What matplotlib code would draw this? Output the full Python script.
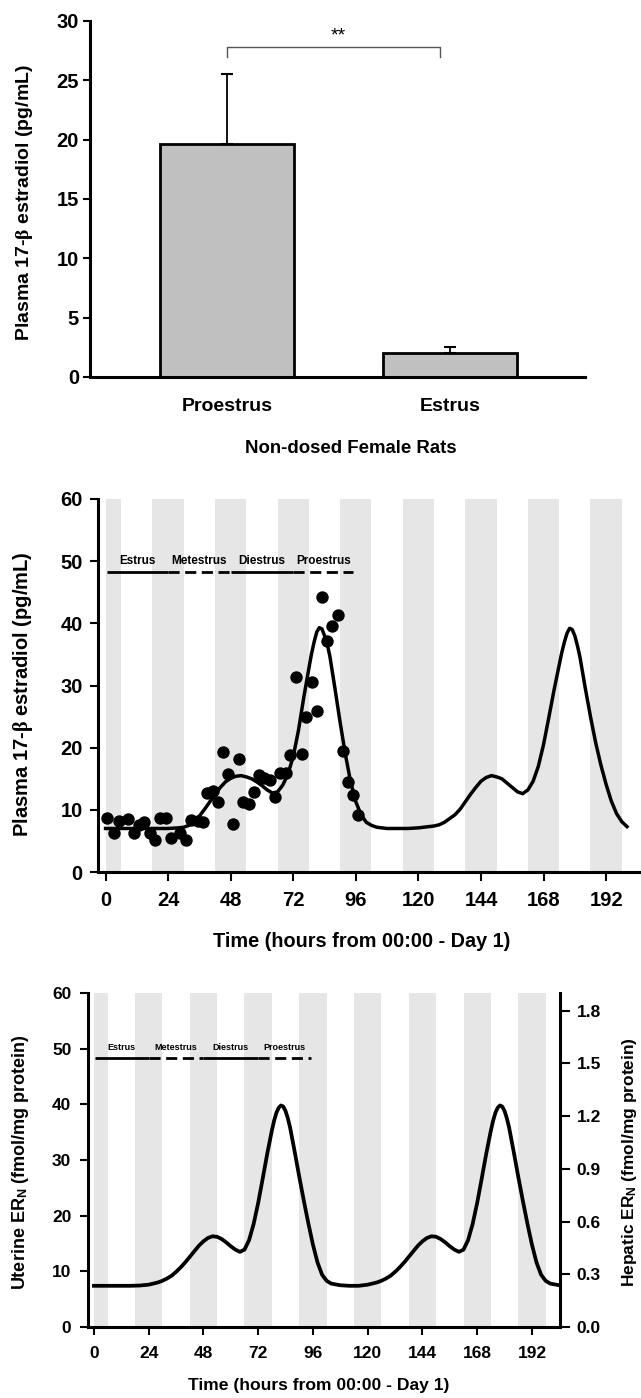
import numpy as np
import matplotlib.pyplot as plt

plt.rcParams['font.family'] = ['Liberation Sans', 'DejaVu Sans']
plt.rcParams['font.weight'] = 'bold'
plt.rcParams['axes.labelweight'] = 'bold'
plt.rcParams['mathtext.fontset'] = 'custom'
plt.rcParams['mathtext.rm'] = 'Liberation Serif'
plt.rcParams['mathtext.default'] = 'rm'

# ---- data: top bar chart ----
groups = ['Proestrus', 'Estrus']
bar_means = [19.6, 2.0]
bar_errs = [5.9, 0.5]

# ---- data: dark periods and cycle stages ----
dark_start = [0, 18, 42, 66, 90, 114, 138, 162, 186]
dark_end = [6, 30, 54, 78, 102, 126, 150, 174, 198]
stage_names = ['Estrus', 'Metestrus', 'Diestrus', 'Proestrus']
stage_start = [0.5, 24, 48, 72]
stage_end = [24, 48, 72, 95]
stage_dashed = [False, True, False, True]

# ---- data: plasma estradiol, observed ----
obs_hours = [0.6, 3.1, 5.0, 8.6, 10.8, 12.9, 14.9, 16.9, 19.1, 20.7, 23.0, 25.1,
             28.5, 30.9, 32.6, 35.6, 37.5, 38.9, 41.1, 43.1, 45.0, 47.0, 48.9,
             51.3, 52.8, 55.2, 57.1, 58.8, 60.7, 63.0, 65.0, 66.9, 69.3, 70.8,
             73.0, 75.2, 76.8, 79.2, 81.0, 83.1, 85.0, 87.0, 89.0, 91.2, 93.1,
             95.0, 97.0]
obs_e2 = [8.7, 6.2, 8.2, 8.6, 6.3, 7.5, 8.1, 6.3, 5.2, 8.7, 8.7, 5.4,
          6.3, 5.1, 8.4, 8.2, 8.1, 12.7, 13.0, 11.3, 19.3, 15.7, 7.7,
          18.2, 11.3, 11.0, 12.9, 15.6, 15.1, 14.8, 12.1, 16.0, 16.0, 18.8,
          31.3, 19.0, 24.9, 30.6, 25.9, 44.2, 37.2, 39.6, 41.4, 19.5, 14.5,
          12.4, 9.1]

# ---- data: plasma estradiol, model curve ----
fit_hours = [0, 4, 8, 12, 16, 20, 24, 28, 30, 32, 34, 36, 38, 40, 42, 44, 46, 48,
             50, 52, 54, 56, 58, 60, 62, 64, 66, 68, 70, 72, 74, 76, 78, 79, 80,
             81, 82, 83, 84, 85, 86, 88, 90, 92, 94, 96, 98, 100, 102, 104, 108,
             112, 116, 120, 124, 126, 128, 130, 132, 134, 136, 138, 140, 142,
             144, 146, 148, 150, 152, 154, 156, 158, 160, 162, 164, 166, 168,
             170, 172, 174, 175, 176, 177, 178, 179, 180, 181, 182, 184, 186,
             188, 190, 192, 194, 196, 198, 200]
fit_e2 = [7.0, 7.0, 7.0, 7.0, 7.0, 7.0, 7.0, 7.1, 7.2, 7.5, 8.1, 9.0, 10.1, 11.3,
          12.5, 13.6, 14.5, 15.1, 15.4, 15.5, 15.3, 15.0, 14.5, 13.9, 13.2, 12.7,
          12.9, 14.0, 15.8, 18.6, 22.8, 28.0, 32.8, 35.1, 37.0, 38.6, 39.3, 39.1,
          38.0, 36.7, 34.8, 29.5, 24.0, 18.9, 14.5, 11.3, 9.2, 8.0, 7.5, 7.2, 7.0,
          7.0, 7.0, 7.1, 7.3, 7.4, 7.6, 8.0, 8.6, 9.2, 10.1, 11.3, 12.5, 13.6,
          14.6, 15.2, 15.5, 15.3, 15.0, 14.3, 13.6, 12.9, 12.6, 13.2, 14.6, 17.0,
          20.5, 24.8, 29.2, 33.3, 35.3, 37.0, 38.4, 39.2, 39.0, 38.0, 36.4, 34.5,
          29.6, 25.0, 20.8, 17.2, 14.1, 11.4, 9.4, 8.1, 7.3]

# ---- data: uterine ER_N model curve ----
er_hours = [0, 4, 8, 12, 16, 20, 24, 28, 30, 32, 34, 36, 38, 40, 42, 44, 46, 48,
            50, 52, 54, 56, 58, 60, 62, 64, 66, 68, 70, 72, 74, 76, 78, 79, 80,
            81, 82, 83, 84, 85, 86, 88, 90, 92, 94, 96, 98, 100, 102, 104, 108,
            112, 116, 120, 124, 126, 128, 130, 132, 134, 136, 138, 140, 142,
            144, 146, 148, 150, 152, 154, 156, 158, 160, 162, 164, 166, 168,
            170, 172, 174, 175, 176, 177, 178, 179, 180, 181, 182, 184, 186,
            188, 190, 192, 194, 196, 198, 200, 204]
er_uterine = [7.4, 7.4, 7.4, 7.4, 7.4, 7.45, 7.6, 8.0, 8.3, 8.7, 9.2, 9.9, 10.7,
              11.6, 12.6, 13.6, 14.6, 15.4, 16.0, 16.3, 16.2, 15.8, 15.2, 14.5,
              13.9, 13.5, 13.9, 15.6, 18.5, 22.3, 26.7, 31.2, 35.3, 37.1, 38.5,
              39.4, 39.8, 39.6, 38.8, 37.5, 35.8, 31.5, 27.0, 22.7, 18.6, 14.8,
              11.6, 9.4, 8.3, 7.8, 7.5, 7.4, 7.4, 7.6, 8.0, 8.3, 8.7, 9.2, 9.9,
              10.7, 11.6, 12.6, 13.6, 14.6, 15.4, 16.0, 16.3, 16.2, 15.8, 15.2,
              14.5, 13.9, 13.5, 13.9, 15.6, 18.5, 22.3, 26.7, 31.2, 35.3, 37.1,
              38.5, 39.4, 39.8, 39.6, 38.8, 37.5, 35.8, 31.5, 27.0, 22.7, 18.6,
              14.8, 11.6, 9.4, 8.3, 7.8, 7.5]

time_ticks = [0, 24, 48, 72, 96, 120, 144, 168, 192]
hepatic_ticks = [0.0, 0.3, 0.6, 0.9, 1.2, 1.5, 1.8]
time_label = 'Time (hours from 00:00 - Day 1)'
e2_label = r'Plasma 17-$\beta$ estradiol (pg/mL)'

W, H = 641, 1398
fig = plt.figure(figsize=(W / 100, H / 100), dpi=100)


def px_axes(left, right, top, bottom):
    return fig.add_axes([left / W, 1 - bottom / H, (right - left) / W, (bottom - top) / H])


def style_spines(ax, sides, lw=2.2):
    for s in ['left', 'right', 'top', 'bottom']:
        ax.spines[s].set_visible(s in sides)
        ax.spines[s].set_linewidth(lw)


def draw_stages(ax, fs, line_y=48.3, text_y=50.0):
    for name, s, e, dashed in zip(stage_names, stage_start, stage_end, stage_dashed):
        ls = (0, (4, 2)) if dashed else '-'
        ax.plot([s, e], [line_y, line_y], color='black', lw=2.0, linestyle=ls,
                solid_capstyle='butt', dash_capstyle='butt', zorder=3)
        ax.text((s + e) / 2, text_y, name, fontsize=fs, ha='center', va='center', zorder=3)


def draw_dark(ax):
    for s, e in zip(dark_start, dark_end):
        ax.axvspan(s, e, color='#e6e6e6', lw=0, zorder=0)


# ---------------- top panel ----------------
ax1 = px_axes(90, 585, 21, 377)
x = np.arange(len(groups))
ax1.bar(x, bar_means, width=0.6, color='#c0c0c0', edgecolor='black', linewidth=2, zorder=2)
ax1.errorbar(x, bar_means, yerr=[np.zeros(len(groups)), bar_errs], fmt='none',
             ecolor='black', elinewidth=1.3, capsize=4, capthick=1.5, zorder=3)
ax1.set_xlim(-0.614, 1.603)
ax1.set_ylim(0, 30)
ax1.set_yticks([0, 5, 10, 15, 20, 25, 30])
ax1.set_xticks(x)
ax1.set_xticklabels(groups)
style_spines(ax1, ['left', 'bottom'])
ax1.tick_params(axis='x', length=0, pad=15, labelsize=14)
ax1.tick_params(axis='y', length=5, width=1.5, pad=3, labelsize=14.5)
ax1.plot([0, 0, 0.955, 0.955], [27.0, 27.8, 27.8, 27.0], color='#555555', lw=1.0)
ax1.text(0.5, 28.7, '**', fontsize=14, fontweight='normal', ha='center', va='center')
ax1.set_ylabel(e2_label, fontsize=14)
ax1.yaxis.set_label_coords(-0.111, 0.49)
ax1.set_xlabel('Non-dosed Female Rats', fontsize=13.4)
ax1.xaxis.set_label_coords(0.527, -0.177)

# ---------------- middle panel ----------------
ax2 = px_axes(98, 640, 499, 872)
draw_dark(ax2)
ax2.plot(fit_hours, fit_e2, color='black', lw=2.5, zorder=3, solid_joinstyle='round')
ax2.scatter(obs_hours, obs_e2, s=80, color='black', zorder=4, linewidths=0)
draw_stages(ax2, 8.5)
ax2.set_xlim(-2.9, 205)
ax2.set_ylim(0, 60)
ax2.set_xticks(time_ticks)
ax2.set_yticks([0, 10, 20, 30, 40, 50, 60])
style_spines(ax2, ['left', 'bottom'])
ax2.tick_params(axis='x', length=6.5, width=1.5, pad=7, labelsize=14.5)
ax2.tick_params(axis='y', length=6, width=1.5, pad=5, labelsize=14.5)
ax2.set_ylabel(e2_label, fontsize=14.5)
ax2.yaxis.set_label_coords(-0.116, 0.477)
ax2.set_xlabel(time_label, fontsize=14.3)
ax2.xaxis.set_label_coords(0.487, -0.161)

# ---------------- bottom panel ----------------
ax3 = px_axes(88, 560, 993, 1327)
draw_dark(ax3)
ax3.plot(er_hours, er_uterine, color='black', lw=2.7, zorder=3, solid_joinstyle='round')
draw_stages(ax3, 6.5, text_y=50.2)
ax3.set_xlim(-2.6, 204.3)
ax3.set_ylim(0, 60)
ax3.set_xticks(time_ticks)
ax3.set_yticks([0, 10, 20, 30, 40, 50, 60])
style_spines(ax3, ['left', 'bottom'])
ax3.tick_params(axis='x', length=6, width=1.5, pad=8, labelsize=12.5)
ax3.tick_params(axis='y', length=6, width=1.5, pad=6, labelsize=12.5)
ax3.set_ylabel(r'Uterine ER$_\mathregular{N}$ (fmol/mg protein)', fontsize=13)
ax3.yaxis.set_label_coords(-0.121, 0.494)
ax3.set_xlabel(time_label, fontsize=12.6)
ax3.xaxis.set_label_coords(0.489, -0.153)

ax3r = ax3.twinx()
ax3r.set_ylim(0, 1.9)
ax3r.set_yticks(hepatic_ticks)
ax3r.set_yticklabels(['%.1f' % v for v in hepatic_ticks])
style_spines(ax3r, ['right'])
ax3r.tick_params(axis='y', length=7, width=1.5, pad=5, labelsize=12.5)
ax3r.set_ylabel(r'Hepatic ER$_\mathregular{N}$ (fmol/mg protein)', fontsize=12.5)
ax3r.yaxis.set_label_coords(1.128, 0.494)

fig.savefig('out.png', dpi=100)
